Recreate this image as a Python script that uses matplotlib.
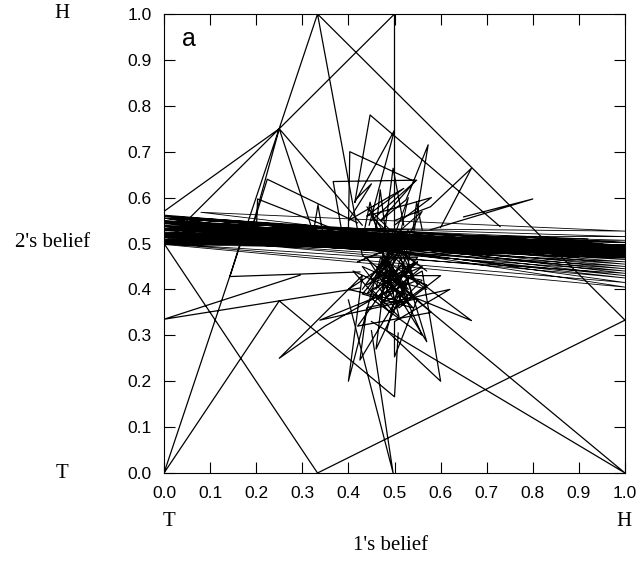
import numpy as np
import matplotlib
matplotlib.use("Agg")
import matplotlib.pyplot as plt

nan = np.nan

# big early jumps (nan separates strokes)
long_x = [0.0, 0.333, 1.0, 0.333, 0.0, 0.5, 0.5, nan,
          0.333, 0.43, 1.0, 0.45, nan,
          0.0, 0.25, 0.5, 0.508, nan,
          0.295, 0.0, 0.425, nan,
          0.0, 0.25, 0.19, nan,
          0.32, 0.25, 0.43, nan,
          0.40, 0.497, 0.45, nan,
          0.165, 0.143, 0.425]
long_y = [0.0, 1.0, 0.333, 0.0, 0.5, 1.0, 0.52, nan,
          1.0, 0.475, 0.0, 0.33, nan,
          0.0, 0.375, 0.166, 0.305, nan,
          0.431, 0.335, 0.403, nan,
          0.57, 0.75, 0.53, nan,
          0.535, 0.75, 0.54, nan,
          0.377, 0.0, 0.31, nan,
          0.50, 0.428, 0.438]

# excursions above the band
upper_x = [0.414, 0.447, 0.729, nan,
           0.414, 0.5, 0.445, nan,
           0.40, 0.403, 0.544, 0.47, nan,
           0.543, 0.573, 0.525, 0.47, nan,
           0.60, 0.667, 0.578, 0.50, nan,
           0.385, 0.367, 0.548, 0.45, nan,
           0.65, 0.8, 0.578, nan,
           0.19, 0.224, 0.42, nan,
           0.20, 0.203, 0.36, nan,
           0.325, 0.334, 0.343, nan,
           0.435, 0.447, 0.46, nan,
           0.46, 0.469, 0.48, nan,
           0.54, 0.548, 0.56, nan,
           0.48, 0.497, 0.52, nan,
           0.42, 0.45, 0.40, 0.52, 0.44, 0.58, 0.50]
upper_y = [0.59, 0.78, 0.537, nan,
           0.59, 0.747, 0.54, nan,
           0.53, 0.70, 0.635, 0.55, nan,
           0.53, 0.715, 0.595, 0.55, nan,
           0.535, 0.664, 0.58, 0.55, nan,
           0.53, 0.635, 0.638, 0.55, nan,
           0.558, 0.597, 0.53, nan,
           0.53, 0.64, 0.545, nan,
           0.52, 0.597, 0.535, nan,
           0.53, 0.584, 0.53, nan,
           0.53, 0.59, 0.535, nan,
           0.53, 0.617, 0.53, nan,
           0.53, 0.59, 0.53, nan,
           0.535, 0.664, 0.54, nan,
           0.60, 0.63, 0.55, 0.62, 0.56, 0.60, 0.54]

# excursions below the band
lower_x = [0.47, 0.40, 0.43, 0.25, 0.349, 0.56, 0.60, 0.483, 0.52, 0.57,
           0.50, 0.667, 0.55, 0.338, 0.55, 0.50, 0.50, 0.62, 0.44, 0.425,
           0.53, 0.46, 0.48, 0.58, 0.42, 0.52, 0.45, 0.56, 0.49, 0.40,
           0.53, 0.47, 0.60, 0.51, 0.44, 0.55, 0.48, 0.50, 0.43, 0.54,
           0.46, 0.57, 0.49, 0.41, 0.52, 0.47, 0.56, 0.45, 0.51, 0.48]
lower_y = [0.47, 0.20, 0.43, 0.25, 0.32, 0.44, 0.20, 0.31, 0.45, 0.286,
           0.40, 0.332, 0.42, 0.333, 0.38, 0.253, 0.33, 0.40, 0.36, 0.246,
           0.42, 0.27, 0.44, 0.35, 0.32, 0.46, 0.38, 0.30, 0.46, 0.40,
           0.37, 0.43, 0.43, 0.36, 0.47, 0.47, 0.38, 0.47, 0.39, 0.36,
           0.45, 0.41, 0.35, 0.44, 0.39, 0.37, 0.45, 0.40, 0.34, 0.46]

# dense knot around the mixed equilibrium
core_x = [0.50, 0.43, 0.52, 0.47, 0.49, 0.55, 0.51, 0.45, 0.53, 0.50,
          0.48, 0.57, 0.50, 0.44, 0.51, 0.53, 0.49, 0.42, 0.52, 0.56,
          0.48, 0.46, 0.54, 0.52, 0.47, 0.41, 0.50, 0.58, 0.49, 0.45,
          0.52, 0.54, 0.46, 0.50, 0.53, 0.47, 0.51, 0.44, 0.55, 0.49,
          0.48, 0.53, 0.46, 0.56, 0.50, 0.43, 0.52, 0.47, 0.54, 0.51,
          0.45, 0.55, 0.48, 0.52, 0.44, 0.50, 0.57, 0.46, 0.53, 0.49]
core_y = [0.50, 0.40, 0.52, 0.38, 0.50, 0.41, 0.49, 0.43, 0.50, 0.37,
          0.51, 0.44, 0.49, 0.58, 0.51, 0.60, 0.49, 0.46, 0.50, 0.57,
          0.50, 0.40, 0.52, 0.39, 0.49, 0.52, 0.51, 0.50, 0.48, 0.56,
          0.49, 0.43, 0.51, 0.42, 0.53, 0.45, 0.50, 0.39, 0.46, 0.41,
          0.47, 0.40, 0.44, 0.42, 0.36, 0.45, 0.41, 0.47, 0.38, 0.48,
          0.42, 0.46, 0.39, 0.44, 0.41, 0.45, 0.40, 0.43, 0.38, 0.46]

# late long sweeps across the whole range of 1's belief
band_left_y = [0.505, 0.548, 0.52, 0.555, 0.50, 0.537, 0.568, 0.512, 0.545, 0.53,
               0.498, 0.552, 0.525, 0.508, 0.54, 0.56, 0.515, 0.535, 0.502, 0.548,
               0.52, 0.543, 0.51, 0.53, 0.555, 0.50, 0.538, 0.518, 0.546, 0.527,
               0.503, 0.533, 0.55, 0.507, 0.541, 0.523, 0.558, 0.501, 0.536, 0.514,
               0.549, 0.529, 0.505, 0.544, 0.521, 0.562, 0.509, 0.532, 0.547, 0.517]
band_left_x = [0.0, 0.0, 0.03, 0.0, 0.0, 0.0, 0.08, 0.0, 0.0, 0.0,
               0.0, 0.05, 0.0, 0.0, 0.0, 0.0, 0.0, 0.02, 0.0, 0.0,
               0.0, 0.0, 0.06, 0.0, 0.0, 0.0, 0.0, 0.0, 0.0, 0.04,
               0.0, 0.0, 0.0, 0.0, 0.1, 0.0, 0.0, 0.0, 0.0, 0.0,
               0.0, 0.0, 0.0, 0.03, 0.0, 0.0, 0.0, 0.0, 0.0, 0.0]
band_right_y = [0.49, 0.475, 0.50, 0.415, 0.485, 0.527, 0.47, 0.44, 0.495, 0.48,
                0.405, 0.505, 0.487, 0.46, 0.478, 0.495, 0.425, 0.483, 0.51, 0.47,
                0.49, 0.45, 0.48, 0.498, 0.435, 0.487, 0.473, 0.515, 0.481, 0.492,
                0.476, 0.502, 0.468, 0.489, 0.455, 0.494, 0.479, 0.507, 0.472, 0.486,
                0.43, 0.497, 0.484, 0.465, 0.491, 0.477, 0.503, 0.482, 0.445, 0.488]
band_right_x = [1.0, 1.0, 0.95, 1.0, 1.0, 1.0, 0.90, 1.0, 1.0, 1.0,
                1.0, 0.86, 1.0, 1.0, 1.0, 1.0, 1.0, 1.0, 0.92, 1.0,
                1.0, 1.0, 1.0, 0.97, 1.0, 1.0, 1.0, 1.0, 1.0, 1.0,
                0.88, 1.0, 1.0, 1.0, 1.0, 1.0, 0.94, 1.0, 1.0, 1.0,
                1.0, 1.0, 1.0, 1.0, 0.9, 1.0, 1.0, 1.0, 1.0, 1.0]

band_x = np.column_stack([band_left_x, band_right_x]).ravel()
band_y = np.column_stack([band_left_y, band_right_y]).ravel()

fig = plt.figure(figsize=(6.43, 5.62), dpi=100)
ax = fig.add_axes([164 / 643, 1 - 473 / 562, 461 / 643, 459 / 562])

for xs, ys, w in [(long_x, long_y, 0.9), (upper_x, upper_y, 0.9),
                  (lower_x, lower_y, 0.9), (core_x, core_y, 0.8),
                  (band_x, band_y, 0.6)]:
    ax.plot(xs, ys, color="black", lw=w)

ax.set_xlim(0, 1)
ax.set_ylim(0, 1)
ticks = np.round(np.arange(0, 1.01, 0.1), 1)
ax.set_xticks(ticks)
ax.set_yticks(ticks)
ax.set_xticklabels([f"{t:.1f}" for t in ticks])
ax.set_yticklabels([f"{t:.1f}" for t in ticks])
ax.tick_params(direction="in", length=8, width=0.8, top=True, right=True,
               labelsize=12.5, pad=9)
for lab in ax.get_xticklabels() + ax.get_yticklabels():
    lab.set_family("Liberation Sans")
for s in ax.spines.values():
    s.set_linewidth(0.8)

ax.text(0.04, 0.945, "a", transform=ax.transAxes, fontsize=18,
        family="Liberation Sans", va="center", ha="left")

serif = dict(family="Liberation Serif", fontsize=15)
fig.text(62 / 643, 1 - 14 / 562, "H", ha="center", va="center", **serif)
fig.text(62 / 643, 1 - 473 / 562, "T", ha="center", va="center", **serif)
fig.text(53 / 643, 1 - 242 / 562, "2's belief", ha="center", va="center", **serif)
fig.text(169 / 643, 1 - 521 / 562, "T", ha="center", va="center", **serif)
fig.text(624 / 643, 1 - 521 / 562, "H", ha="center", va="center", **serif)
fig.text(391 / 643, 1 - 545 / 562, "1's belief", ha="center", va="center", **serif)

fig.savefig("out.png", dpi=100)
